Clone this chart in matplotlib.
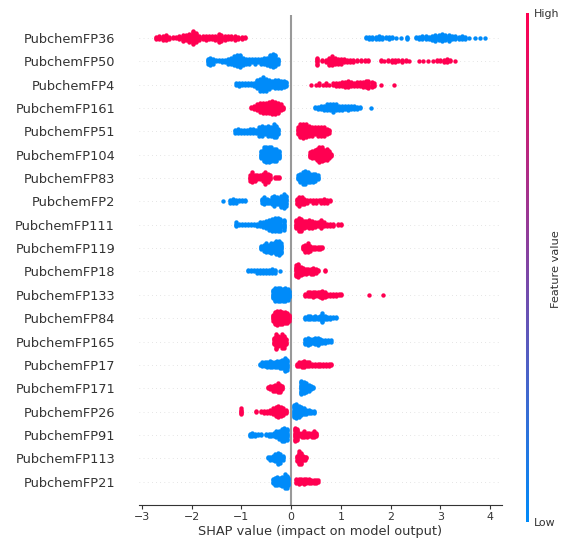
import numpy as np
import matplotlib
matplotlib.use("Agg")
import matplotlib.pyplot as plt
from matplotlib.colors import LinearSegmentedColormap
from matplotlib.cm import ScalarMappable

# features, top to bottom
features = ["PubchemFP36", "PubchemFP50", "PubchemFP4", "PubchemFP161", "PubchemFP51",
            "PubchemFP104", "PubchemFP83", "PubchemFP2", "PubchemFP111", "PubchemFP119",
            "PubchemFP18", "PubchemFP133", "PubchemFP84", "PubchemFP165", "PubchemFP17",
            "PubchemFP171", "PubchemFP26", "PubchemFP91", "PubchemFP113", "PubchemFP21"]

fp36_high = [(-2.72, 3), (-2.65, 4), (-2.58, 5), (-2.52, 6), (-2.45, 3), (-2.38, 2), (-2.32, 2),
             (-2.25, 4), (-2.18, 7), (-2.12, 6), (-2.05, 9), (-1.98, 14), (-1.92, 10), (-1.85, 5),
             (-1.78, 4), (-1.72, 5), (-1.65, 4), (-1.58, 4), (-1.52, 5), (-1.45, 9), (-1.40, 7),
             (-1.33, 5), (-1.27, 4), (-1.20, 4), (-1.13, 5), (-1.06, 3), (-0.99, 3), (-0.93, 2)]
fp36_low = [(1.50, 2), (1.57, 3), (1.63, 3), (1.70, 3), (1.77, 4), (1.83, 3), (1.90, 2), (1.97, 3),
            (2.03, 2), (2.10, 1), (2.20, 1), (2.33, 3), (2.50, 2), (2.57, 3), (2.63, 4), (2.70, 4),
            (2.77, 3), (2.83, 5), (2.90, 7), (2.97, 6), (3.03, 8), (3.10, 6), (3.17, 7), (3.23, 4),
            (3.30, 4), (3.37, 3), (3.43, 4), (3.50, 3), (3.57, 1), (3.70, 1), (3.80, 1), (3.90, 1)]

fp50_high = [(0.52, 7), (0.62, 2), (0.70, 3), (0.76, 7), (0.82, 8), (0.88, 6), (0.94, 5), (1.00, 5),
             (1.06, 4), (1.12, 3), (1.18, 3), (1.25, 3), (1.32, 2), (1.40, 2), (1.48, 2), (1.55, 2),
             (1.80, 2), (1.86, 1), (1.95, 2), (2.02, 3), (2.08, 3), (2.15, 2), (2.22, 3), (2.30, 2),
             (2.37, 1), (2.56, 1), (2.65, 1), (2.75, 1), (2.85, 1), (2.93, 2), (3.00, 2), (3.07, 3),
             (3.13, 4), (3.20, 2), (3.30, 1)]
fp50_low = [(-1.68, 5), (-1.62, 7), (-1.56, 5), (-1.50, 2), (-1.44, 2), (-1.38, 3), (-1.32, 3),
            (-1.26, 5), (-1.20, 6), (-1.14, 8), (-1.08, 10), (-1.02, 11), (-0.96, 7), (-0.90, 5),
            (-0.84, 5), (-0.78, 4), (-0.72, 5), (-0.66, 4), (-0.60, 5), (-0.54, 6), (-0.48, 7),
            (-0.42, 10), (-0.37, 12), (-0.32, 10), (-0.27, 5)]

fp4_high = [(0.39, 1), (0.50, 1), (0.56, 2), (0.64, 1), (0.70, 2), (0.76, 1), (0.84, 2), (0.90, 3),
            (0.96, 3), (1.02, 4), (1.08, 5), (1.14, 6), (1.20, 4), (1.26, 3), (1.32, 4), (1.38, 4),
            (1.44, 5), (1.50, 6), (1.55, 7), (1.62, 5), (1.67, 3), (1.80, 1), (2.07, 1)]
fp4_low = [(-1.10, 2), (-1.04, 3), (-0.98, 2), (-0.92, 2), (-0.86, 2), (-0.80, 2), (-0.74, 3),
           (-0.68, 8), (-0.62, 11), (-0.56, 12), (-0.50, 11), (-0.44, 9), (-0.38, 6), (-0.32, 8),
           (-0.26, 8), (-0.20, 7), (-0.14, 6), (-0.10, 4)]

fp161_high = [(-0.81, 2), (-0.75, 4), (-0.69, 6), (-0.63, 8), (-0.57, 9), (-0.51, 9), (-0.45, 10),
              (-0.39, 12), (-0.33, 11), (-0.27, 9), (-0.21, 6), (-0.17, 3)]
fp161_low = [(0.47, 2), (0.53, 3), (0.60, 4), (0.66, 5), (0.72, 6), (0.78, 6), (0.84, 7), (0.90, 6),
             (0.96, 5), (1.02, 5), (1.08, 4), (1.14, 5), (1.20, 4), (1.26, 4), (1.32, 3), (1.38, 2),
             (1.60, 1)]

fp51_high = [(0.13, 6), (0.18, 10), (0.24, 11), (0.30, 10), (0.36, 8), (0.42, 7), (0.48, 6),
             (0.54, 7), (0.60, 7), (0.66, 7), (0.72, 5), (0.77, 3)]
fp51_low = [(-1.13, 3), (-1.07, 4), (-1.01, 3), (-0.95, 3), (-0.89, 3), (-0.83, 4), (-0.77, 4),
            (-0.71, 3), (-0.65, 7), (-0.59, 8), (-0.53, 6), (-0.47, 8), (-0.41, 7), (-0.35, 10),
            (-0.30, 9), (-0.27, 5)]

fp104_high = [(0.37, 5), (0.42, 7), (0.47, 8), (0.52, 10), (0.57, 13), (0.62, 12), (0.67, 9),
              (0.72, 10), (0.77, 7), (0.80, 3)]
fp104_low = [(-0.60, 7), (-0.55, 12), (-0.50, 13), (-0.45, 13), (-0.40, 12), (-0.35, 11),
             (-0.30, 11), (-0.25, 7)]

fp83_high = [(-0.83, 5), (-0.78, 8), (-0.73, 5), (-0.68, 4), (-0.63, 4), (-0.57, 6), (-0.52, 9),
             (-0.47, 7), (-0.42, 4), (-0.33, 2), (-0.28, 2), (-0.25, 2)]
fp83_low = [(0.13, 4), (0.18, 7), (0.23, 9), (0.28, 10), (0.33, 8), (0.38, 7), (0.43, 7),
            (0.48, 6), (0.53, 4)]

fp2_high = [(0.11, 5), (0.16, 7), (0.21, 6), (0.26, 5), (0.31, 3), (0.37, 2), (0.43, 3), (0.49, 3),
            (0.55, 2), (0.61, 3), (0.67, 4), (0.73, 3), (0.78, 2)]
fp2_low = [(-1.37, 1), (-1.23, 3), (-1.17, 4), (-1.11, 3), (-1.05, 2), (-0.99, 2), (-0.93, 2),
           (-0.59, 4), (-0.54, 6), (-0.49, 4), (-0.44, 3), (-0.39, 6), (-0.34, 8), (-0.29, 6),
           (-0.24, 5), (-0.20, 9), (-0.15, 11), (-0.11, 8)]

fp111_high = [(0.10, 8), (0.15, 12), (0.20, 11), (0.25, 7), (0.30, 6), (0.36, 8), (0.41, 7),
              (0.47, 5), (0.53, 4), (0.60, 8), (0.66, 4), (0.72, 3), (0.78, 3), (0.85, 3),
              (0.95, 2), (1.00, 2)]
fp111_low = [(-1.10, 4), (-1.05, 2), (-0.99, 2), (-0.93, 2), (-0.87, 2), (-0.81, 2), (-0.75, 2),
             (-0.68, 3), (-0.62, 4), (-0.56, 5), (-0.50, 7), (-0.44, 9), (-0.38, 11), (-0.32, 12),
             (-0.27, 12), (-0.22, 11), (-0.15, 9)]

fp119_high = [(0.23, 4), (0.28, 7), (0.33, 8), (0.38, 5), (0.43, 3), (0.48, 3), (0.53, 3),
              (0.58, 3), (0.63, 2)]
fp119_low = [(-0.60, 4), (-0.55, 6), (-0.50, 8), (-0.45, 7), (-0.40, 9), (-0.35, 8), (-0.30, 12),
             (-0.25, 13), (-0.21, 9)]

fp18_high = [(0.10, 10), (0.14, 12), (0.19, 8), (0.24, 6), (0.29, 5), (0.34, 4), (0.39, 5),
             (0.44, 6), (0.49, 4), (0.54, 2), (0.68, 2)]
fp18_low = [(-0.87, 2), (-0.81, 2), (-0.75, 2), (-0.69, 3), (-0.63, 3), (-0.57, 3), (-0.51, 3),
            (-0.45, 3), (-0.39, 4), (-0.33, 3), (-0.22, 1)]

fp133_high = [(0.28, 3), (0.33, 4), (0.38, 4), (0.43, 5), (0.48, 4), (0.53, 4), (0.58, 5),
              (0.63, 7), (0.68, 5), (0.73, 3), (0.78, 3), (0.84, 3), (0.90, 3), (0.96, 2),
              (1.00, 2), (1.57, 1), (1.85, 1)]
fp133_low = [(-0.37, 8), (-0.32, 12), (-0.27, 12), (-0.22, 12), (-0.17, 11), (-0.12, 12),
             (-0.07, 10), (-0.04, 6)]

fp84_high = [(-0.37, 6), (-0.33, 11), (-0.28, 13), (-0.23, 12), (-0.18, 11), (-0.13, 10),
             (-0.08, 9), (-0.04, 6)]
fp84_low = [(0.28, 3), (0.33, 4), (0.38, 4), (0.43, 3), (0.48, 4), (0.53, 3), (0.58, 4), (0.63, 8),
            (0.68, 4), (0.73, 3), (0.78, 3), (0.84, 2), (0.90, 2)]

fp165_high = [(-0.35, 6), (-0.31, 13), (-0.27, 10), (-0.23, 8), (-0.19, 12), (-0.15, 11),
              (-0.11, 5)]
fp165_low = [(0.28, 5), (0.33, 7), (0.38, 5), (0.43, 4), (0.48, 6), (0.53, 7), (0.58, 4),
             (0.63, 3), (0.68, 3), (0.74, 2), (0.80, 2)]

fp17_high = [(0.11, 3), (0.16, 4), (0.21, 5), (0.26, 6), (0.31, 4), (0.36, 4), (0.41, 3),
             (0.47, 3), (0.53, 3), (0.59, 3), (0.65, 3), (0.71, 3), (0.77, 3), (0.81, 2)]
fp17_low = [(-0.63, 2), (-0.58, 4), (-0.53, 4), (-0.48, 5), (-0.43, 6), (-0.38, 5), (-0.33, 5),
            (-0.28, 6), (-0.23, 7), (-0.18, 8), (-0.13, 12), (-0.08, 9)]

fp171_high = [(-0.47, 2), (-0.42, 4), (-0.37, 5), (-0.32, 6), (-0.27, 8), (-0.22, 7), (-0.19, 4)]
fp171_low = [(0.20, 12), (0.25, 10), (0.30, 8), (0.35, 6), (0.40, 4), (0.43, 2)]

fp26_high = [(-1.01, 6), (-0.70, 2), (-0.60, 2), (-0.54, 3), (-0.48, 3), (-0.42, 4), (-0.36, 6),
             (-0.31, 9), (-0.26, 11), (-0.21, 9), (-0.16, 7), (-0.11, 4)]
fp26_low = [(0.05, 12), (0.10, 14), (0.15, 11), (0.20, 8), (0.25, 6), (0.30, 5), (0.35, 4),
            (0.40, 3), (0.45, 3)]

fp91_high = [(0.07, 12), (0.11, 10), (0.16, 4), (0.21, 5), (0.26, 6), (0.31, 5), (0.36, 4),
             (0.41, 5), (0.46, 6), (0.50, 4)]
fp91_low = [(-0.83, 3), (-0.78, 4), (-0.73, 3), (-0.66, 2), (-0.61, 2), (-0.50, 2), (-0.45, 3),
            (-0.40, 3), (-0.35, 4), (-0.30, 6), (-0.25, 7), (-0.19, 11), (-0.14, 12), (-0.09, 10)]

fp113_high = [(0.11, 5), (0.15, 10), (0.19, 9), (0.23, 4), (0.27, 3), (0.30, 2)]
fp113_low = [(-0.47, 2), (-0.42, 3), (-0.37, 4), (-0.32, 6), (-0.27, 9), (-0.22, 7), (-0.17, 4)]

fp21_high = [(0.10, 4), (0.15, 5), (0.20, 4), (0.25, 5), (0.30, 4), (0.35, 4), (0.40, 3),
             (0.45, 3), (0.50, 3), (0.53, 2)]
fp21_low = [(-0.37, 4), (-0.33, 7), (-0.28, 8), (-0.23, 7), (-0.18, 9), (-0.13, 12), (-0.09, 11),
            (-0.06, 7)]

high_bins = [fp36_high, fp50_high, fp4_high, fp161_high, fp51_high, fp104_high, fp83_high,
             fp2_high, fp111_high, fp119_high, fp18_high, fp133_high, fp84_high, fp165_high,
             fp17_high, fp171_high, fp26_high, fp91_high, fp113_high, fp21_high]
low_bins = [fp36_low, fp50_low, fp4_low, fp161_low, fp51_low, fp104_low, fp83_low,
            fp2_low, fp111_low, fp119_low, fp18_low, fp133_low, fp84_low, fp165_low,
            fp17_low, fp171_low, fp26_low, fp91_low, fp113_low, fp21_low]

blue = (0.0, 0.5434, 0.9748)
red = (1.0, 0.0, 0.3176)
cmap = LinearSegmentedColormap.from_list("red_blue", [blue, red])
axis_color = "#333333"
row_height = 0.4


def stack(bins):
    # shap-style layering: 0, +1, -1, +2, -2 ... for points sharing a bin
    xs, ys = [], []
    for x, n in bins:
        for layer in range(n):
            xs.append(x)
            ys.append(np.ceil(layer / 2) * ((layer % 2) * 2 - 1))
    return np.array(xs), np.array(ys)


fig = plt.figure(figsize=(5.64, 5.38), dpi=100)
ax = fig.add_axes([0.247, 0.0613, 0.6425, 0.9116])

n_feat = len(features)
for i, name in enumerate(features):
    pos = n_feat - 1 - i
    ax.axhline(y=pos, color="#cccccc", lw=0.5, dashes=(1, 5), zorder=-1)
    xh, yh = stack(high_bins[i])
    xl, yl = stack(low_bins[i])
    ymax = max(yh.max(), yl.max())
    scale = 0.9 * row_height / (ymax + 1)
    ax.scatter(xl, pos + yl * scale, s=10, color=blue, linewidth=0, zorder=3)
    ax.scatter(xh, pos + yh * scale, s=10, color=red, linewidth=0, zorder=3)

ax.axvline(x=0, color="#999999", zorder=-1)

ax.set_xlim(-3.05, 4.23)
ax.set_ylim(-1, n_feat)
ax.set_yticks(range(n_feat))
ax.set_yticklabels(features[::-1], fontsize=9.3)
ax.yaxis.set_ticks_position("none")
ax.tick_params("y", pad=14, labelcolor=axis_color)
ax.xaxis.set_ticks_position("bottom")
ax.set_xticks(range(-3, 5))
ax.set_xticklabels([str(v).replace("-", "\u2212") for v in range(-3, 5)])
ax.tick_params("x", labelsize=7.9, color=axis_color, labelcolor=axis_color, length=3, pad=2)
for side in ["right", "top", "left"]:
    ax.spines[side].set_visible(False)
ax.spines["bottom"].set_color(axis_color)
ax.set_xlabel("SHAP value (impact on model output)", fontsize=9.3, color=axis_color, labelpad=2)

cax = fig.add_axes([526 / 564, 16 / 538, 3 / 564, 509 / 538])
m = ScalarMappable(cmap=cmap)
m.set_array([0, 1])
cb = fig.colorbar(m, cax=cax, ticks=[0, 1])
cb.set_ticklabels(["Low", "High"])
cb.ax.tick_params(labelsize=7.9, length=0, labelcolor=axis_color)
cb.outline.set_visible(False)
fig.text(556 / 564, 0.5, "Feature value", rotation=90, ha="center", va="center",
         fontsize=8.2, color=axis_color)

fig.savefig("out.png", dpi=100)
